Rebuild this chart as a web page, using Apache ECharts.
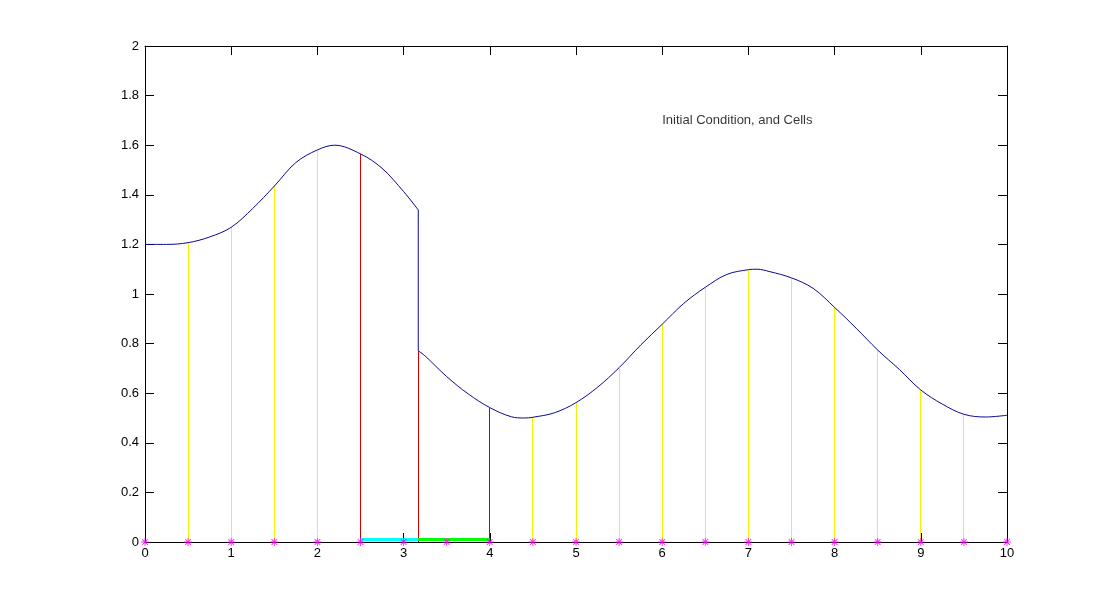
<!DOCTYPE html>
<html>
<head>
<meta charset="utf-8">
<title>Initial Condition, and Cells</title>
<script src="https://cdn.jsdelivr.net/npm/echarts@6/dist/echarts.min.js"></script>
<style>
  html, body { margin: 0; padding: 0; background: #fff; }
  #chart { width: 1112px; height: 609px; }
</style>
</head>
<body>
<div id="chart"></div>
<script>
  // initial condition curve, left piece then right piece, jump at x = 3.17
  const leftX = [0, 0.25, 0.5, 0.75, 1, 1.25, 1.5, 1.75, 2, 2.2, 2.5, 2.75, 3, 3.17]
  const leftY = [1.2, 1.2, 1.207, 1.23, 1.269, 1.345, 1.435, 1.53, 1.581, 1.6, 1.565, 1.507, 1.413, 1.339]
  const rightX = [3.17, 3.25, 3.5, 3.75, 4, 4.25, 4.4, 4.5, 4.75, 5, 5.25, 5.5, 5.75, 6, 6.25, 6.5,
    6.75, 7, 7.1, 7.25, 7.5, 7.75, 8, 8.25, 8.5, 8.75, 9, 9.25, 9.5, 9.75, 10]
  const rightY = [0.771, 0.75, 0.667, 0.597, 0.542, 0.505, 0.5, 0.503, 0.521, 0.562, 0.624, 0.703, 0.794, 0.878, 0.962, 1.027,
    1.079, 1.098, 1.1, 1.09, 1.065, 1.023, 0.946, 0.862, 0.774, 0.696, 0.613, 0.556, 0.515, 0.504, 0.511]

  // yellow cell lines
  const yellowX = [0.5, 1, 1.5, 2, 4.5, 5, 5.5, 6, 6.5, 7, 7.5, 8, 8.5, 9, 9.5]
  const yellowY = [1.207, 1.269, 1.435, 1.581, 0.503, 0.562, 0.703, 0.878, 1.027, 1.098, 1.065, 0.946, 0.774, 0.613, 0.515]

  // red cell edges
  const redX = [2.5, 3.17, 4]
  const redY = [1.565, 0.771, 0.542]

  // coloured cells on the axis
  const cellStart = [2.5, 3.17]
  const cellEnd = [3.17, 4]
  const cellColor = ['#00ffff', '#00ff00']

  // grid points (stars)
  const starX = [0, 0.5, 1, 1.5, 2, 2.5, 3, 3.5, 4, 4.5, 5, 5.5, 6, 6.5, 7, 7.5, 8, 8.5, 9, 9.5, 10]

  const font = '"Liberation Sans", Arial, sans-serif'
  const starPath = 'path://M-0.6,-5L0.6,-5L0.6,5L-0.6,5Z' +
    'M-5,-0.6L5,-0.6L5,0.6L-5,0.6Z' +
    'M-3.08,-3.92L3.92,3.08L3.08,3.92L-3.92,-3.08Z' +
    'M3.08,-3.92L3.92,-3.08L-3.08,3.92L-3.92,3.08Z'

  let chart = echarts.init(document.getElementById('chart'))

  // vertical 1px line from the axis up to the curve, drawn as a rect so it stays crisp
  function vLines (color) {
    return function (params, api) {
      let p0 = api.coord([api.value(0), 0])
      let p1 = api.coord([api.value(0), api.value(1)])
      let x = Math.round(p0[0] - 0.5)
      let y = Math.round(p1[1])
      return {
        type: 'rect',
        shape: { x: x, y: y, width: 1, height: Math.round(p0[1]) - y },
        style: { fill: color }
      }
    }
  }

  let axisCommon = {
    type: 'value',
    axisLine: { onZero: false, lineStyle: { color: '#000', width: 1 } },
    axisTick: { inside: true, length: 9, lineStyle: { color: '#000' } },
    splitLine: { show: false }
  }

  let curveStyle = { color: '#0a0a90', width: 1 }

  let option = {
    animation: false,
    backgroundColor: '#fff',
    grid: { left: 145, right: 105, top: 46, bottom: 67 },
    xAxis: [
      Object.assign({}, axisCommon, {
        min: 0, max: 10, interval: 1, position: 'bottom',
        axisLabel: { margin: 5, color: '#000', fontSize: 13, fontFamily: font }
      }),
      Object.assign({}, axisCommon, {
        min: 0, max: 10, interval: 1, position: 'top',
        axisLabel: { show: false }
      })
    ],
    yAxis: [
      Object.assign({}, axisCommon, {
        min: 0, max: 2, interval: 0.2, position: 'left',
        axisLabel: { margin: 6, color: '#000', fontSize: 13, fontFamily: font }
      }),
      Object.assign({}, axisCommon, {
        min: 0, max: 2, interval: 0.2, position: 'right',
        axisLabel: { show: false }
      })
    ],
    series: [
      {
        type: 'custom',
        renderItem: vLines('#f4f400'),
        data: yellowX.map((x, i) => [x, yellowY[i]]),
        z: 2
      },
      {
        type: 'custom',
        renderItem: vLines('#d40000'),
        data: redX.map((x, i) => [x, redY[i]]),
        z: 3
      },
      {
        type: 'custom',
        renderItem: function (params, api) {
          let a = api.coord([api.value(0), 0])
          let b = api.coord([api.value(1), 0])
          return {
            type: 'rect',
            shape: { x: a[0], y: Math.round(a[1]) - 4, width: b[0] - a[0], height: 3 },
            style: { fill: cellColor[params.dataIndex] }
          }
        },
        data: cellStart.map((x, i) => [x, cellEnd[i]]),
        z: 4
      },
      {
        type: 'line',
        data: leftX.map((x, i) => [x, leftY[i]]),
        showSymbol: false,
        smooth: 0.35,
        lineStyle: curveStyle,
        z: 5
      },
      {
        type: 'line',
        data: [[leftX[leftX.length - 1], leftY[leftY.length - 1]], [rightX[0], rightY[0]]],
        showSymbol: false,
        lineStyle: curveStyle,
        z: 5
      },
      {
        type: 'line',
        data: rightX.map((x, i) => [x, rightY[i]]),
        showSymbol: false,
        smooth: 0.35,
        lineStyle: curveStyle,
        z: 5
      },
      {
        type: 'scatter',
        data: starX.map(x => [x, 0]),
        symbol: starPath,
        symbolSize: 8,
        itemStyle: { color: '#ff00ff' },
        z: 6
      },
      {
        type: 'scatter',
        data: [[6, 1.7]],
        symbolSize: 0,
        label: {
          show: true,
          position: 'right',
          distance: 0,
          formatter: 'Initial Condition, and Cells',
          color: '#000',
          fontSize: 13,
          fontFamily: font
        },
        z: 7
      }
    ]
  }
  chart.setOption(option)
</script>
</body>
</html>
